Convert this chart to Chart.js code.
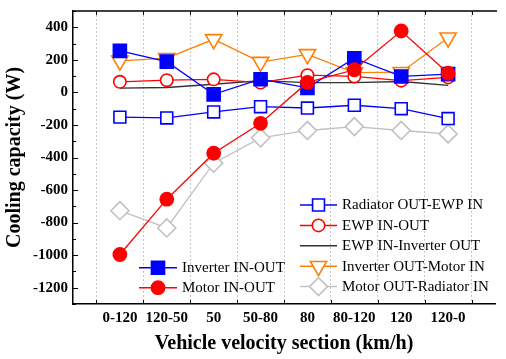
<!DOCTYPE html>
<html>
<head>
<meta charset="utf-8">
<script src="https://cdn.jsdelivr.net/npm/chart.js@4.4.1/dist/chart.umd.min.js"></script>
<style>
  html, body { margin: 0; padding: 0; background: #fff; }
  #wrap { width: 506px; height: 359px; position: relative; }
</style>
</head>
<body>
<div id="wrap"><canvas id="chart"></canvas></div>
<script>
// categories (x axis)
const sections = ['0-120', '120-50', '50', '50-80', '80', '80-120', '120', '120-0'];

// series values (W)
const radiatorOutEwpIn   = [-152, -157, -120, -88, -96, -79, -100, -161];
const ewpInOut           = [65, 75, 80, 60, 106, 98, 72, 92];
const ewpInInverterOut   = [26, 30, 50, 72, 60, 60, 67, 43];
const inverterOutMotorIn = [194, 210, 326, 186, 234, 122, 124, 336];
const motorOutRadiatorIn = [-727, -833, -435, -279, -234, -210, -234, -255];
const inverterInOut      = [255, 189, -12, 81, 28, 210, 98, 112];
const motorInOut         = [-996, -656, -374, -190, 61, 139, 377, 118];

// y tick labels shown
const yTickLabels = [400, 200, 0, -200, -400, -600, -800, -1000, -1200];

const FONT = "'Liberation Serif', 'Times New Roman', serif";

function pts(arr) {
  return arr.map((v, i) => ({ x: i, y: v }));
}

function series(label, data, color, style, filled, radius, order, rotation) {
  return {
    label: label,
    data: pts(data),
    borderColor: color,
    backgroundColor: filled ? color : '#ffffff',
    borderWidth: 1.3,
    pointStyle: style,
    pointRadius: radius,
    pointHoverRadius: radius,
    pointBorderWidth: 1.6,
    pointRotation: rotation || 0,
    pointBorderColor: color,
    pointBackgroundColor: filled ? color : '#ffffff',
    tension: 0,
    order: order
  };
}

const datasets = [
  series('Motor IN-OUT', motorInOut, '#ff0000', 'circle', true, 6.6, 0),
  series('Inverter IN-OUT', inverterInOut, '#0000ff', 'rect', true, 9.2, 1),
  series('EWP IN-OUT', ewpInOut, '#ff0000', 'circle', false, 6.2, 2),
  series('Radiator OUT-EWP IN', radiatorOutEwpIn, '#0000ff', 'rect', false, 8.4, 3),
  series('Inverter OUT-Motor IN', inverterOutMotorIn, '#ff8000', 'triangle', false, 9.4, 4, 180),
  series('EWP IN-Inverter OUT', ewpInInverterOut, '#333333', false, false, 0, 5),
  series('Motor OUT-Radiator IN', motorOutRadiatorIn, '#c0c0c0', 'rectRot', false, 9, 6)
];

function drawMarker(ctx, ds, x, y) {
  const r = ds.pointRadius;
  if (!ds.pointStyle || r === 0) return;
  ctx.save();
  ctx.lineWidth = ds.pointBorderWidth;
  ctx.strokeStyle = ds.pointBorderColor;
  ctx.fillStyle = ds.pointBackgroundColor;
  ctx.beginPath();
  if (ds.pointStyle === 'circle') {
    ctx.arc(x, y, r, 0, Math.PI * 2);
  } else if (ds.pointStyle === 'rect') {
    const s = Math.SQRT1_2 * r;
    ctx.rect(x - s, y - s, 2 * s, 2 * s);
  } else if (ds.pointStyle === 'rectRot') {
    ctx.moveTo(x, y - r); ctx.lineTo(x + r, y); ctx.lineTo(x, y + r); ctx.lineTo(x - r, y);
    ctx.closePath();
  } else if (ds.pointStyle === 'triangle') {
    const rot = (ds.pointRotation || 0) * Math.PI / 180;
    for (let k = 0; k < 3; k++) {
      const a = rot + k * 2 * Math.PI / 3;
      const px = x + Math.sin(a) * r, py = y - Math.cos(a) * r;
      if (k === 0) ctx.moveTo(px, py); else ctx.lineTo(px, py);
    }
    ctx.closePath();
  }
  ctx.fill();
  ctx.stroke();
  ctx.restore();
}

// two in-plot legend boxes
const legendGroups = [
  { labels: ['Inverter IN-OUT', 'Motor IN-OUT'], x0: 139, x1: 177, y0: 267.7, dy: 20 },
  { labels: ['Radiator OUT-EWP IN', 'EWP IN-OUT', 'EWP IN-Inverter OUT', 'Inverter OUT-Motor IN', 'Motor OUT-Radiator IN'], x0: 300, x1: 337, y0: 205, dy: 20.4 }
];

const legendPlugin = {
  id: 'twoLegends',
  afterDraw(chart) {
    const ctx = chart.ctx;
    ctx.save();
    ctx.font = '15px ' + FONT;
    ctx.textBaseline = 'middle';
    ctx.textAlign = 'left';
    legendGroups.forEach(g => {
      g.labels.forEach((lab, i) => {
        const ds = datasets.find(d => d.label === lab);
        const y = g.y0 + i * g.dy;
        ctx.beginPath();
        ctx.lineWidth = 1.5;
        ctx.strokeStyle = ds.borderColor;
        ctx.moveTo(g.x0, y); ctx.lineTo(g.x1, y);
        ctx.stroke();
        drawMarker(ctx, ds, (g.x0 + g.x1) / 2, y);
        ctx.fillStyle = '#000';
        ctx.fillText(lab, g.x1 + 5, y + 0.5);
      });
    });
    ctx.restore();
  }
};

// top border and inward tick marks
const framePlugin = {
  id: 'frame',
  afterDraw(chart) {
    const ctx = chart.ctx;
    const a = chart.chartArea;
    const ys = chart.scales.y;
    const xg = chart.scales.xg;
    ctx.save();
    ctx.strokeStyle = '#000';
    ctx.lineWidth = 1.3;
    ctx.beginPath();
    ctx.moveTo(a.left, a.top); ctx.lineTo(a.right + 2, a.top);
    ctx.stroke();
    ctx.lineWidth = 1;
    ctx.beginPath();
    ys.ticks.forEach(t => {
      const py = Math.round(ys.getPixelForValue(t.value)) + 0.5;
      const len = (t.value % 200 === 0) ? 5 : 3;
      ctx.moveTo(a.left, py); ctx.lineTo(a.left + len, py);
    });
    xg.ticks.forEach(t => {
      const px = Math.round(xg.getPixelForValue(t.value)) + 0.5;
      ctx.moveTo(px, a.bottom); ctx.lineTo(px, a.bottom - 4);
      ctx.moveTo(px, a.top); ctx.lineTo(px, a.top + 4);
    });
    ctx.stroke();
    ctx.restore();
  }
};

function noPad(s) {
  s.paddingTop = 0; s.paddingBottom = 0; s.paddingLeft = 0; s.paddingRight = 0;
}

new Chart(document.getElementById('chart').getContext('2d'), {
  type: 'line',
  data: { datasets: datasets },
  options: {
    responsive: true,
    maintainAspectRatio: false,
    animation: false,
    layout: { padding: { top: 9, left: 0, right: 0, bottom: 0 } },
    plugins: {
      legend: { display: false },
      tooltip: { enabled: false }
    },
    scales: {
      x: {
        type: 'linear',
        position: 'bottom',
        min: -1,
        max: 8,
        afterBuildTicks: s => { s.ticks = sections.map((_, i) => ({ value: i })); },
        afterFit: s => { s.height = 55; noPad(s); },
        grid: { display: false, drawTicks: false },
        border: { display: true, color: '#000', width: 1.5 },
        ticks: {
          autoSkip: false,
          maxRotation: 0,
          padding: 5,
          color: '#000',
          font: { family: FONT, size: 15, weight: 'bold' },
          callback: v => sections[v]
        },
        title: {
          display: true,
          text: 'Vehicle velocity section (km/h)',
          color: '#000',
          font: { family: FONT, size: 20, weight: 'bold' },
          padding: { top: 0, bottom: 3 }
        }
      },
      xg: {
        type: 'linear',
        position: 'bottom',
        min: -1,
        max: 8,
        afterBuildTicks: s => {
          s.ticks = [{ value: -0.5 }].concat(sections.map((_, i) => ({ value: i + 0.5 })));
        },
        afterFit: s => { s.height = 0; noPad(s); },
        grid: { display: true, color: '#c8c8c8', lineWidth: 1, drawTicks: false },
        border: { display: false, dash: [2, 2] },
        ticks: { display: false }
      },
      y: {
        type: 'linear',
        min: -1300,
        max: 500,
        afterBuildTicks: s => {
          const t = [];
          for (let v = -1300; v <= 500; v += 100) t.push({ value: v });
          s.ticks = t;
        },
        afterFit: s => { s.width = 73; noPad(s); },
        grid: { display: true, drawOnChartArea: false, drawTicks: false },
        border: { display: true, color: '#000', width: 1.5 },
        ticks: {
          autoSkip: false,
          padding: 5,
          color: '#000',
          font: { family: FONT, size: 15, weight: 'bold' },
          callback: v => yTickLabels.includes(v) ? String(v) : ''
        },
        title: {
          display: true,
          text: 'Cooling capacity (W)',
          color: '#000',
          font: { family: FONT, size: 20, weight: 'bold' },
          padding: { top: 3, bottom: 0 }
        }
      }
    }
  },
  plugins: [legendPlugin, framePlugin]
});
</script>
</body>
</html>
